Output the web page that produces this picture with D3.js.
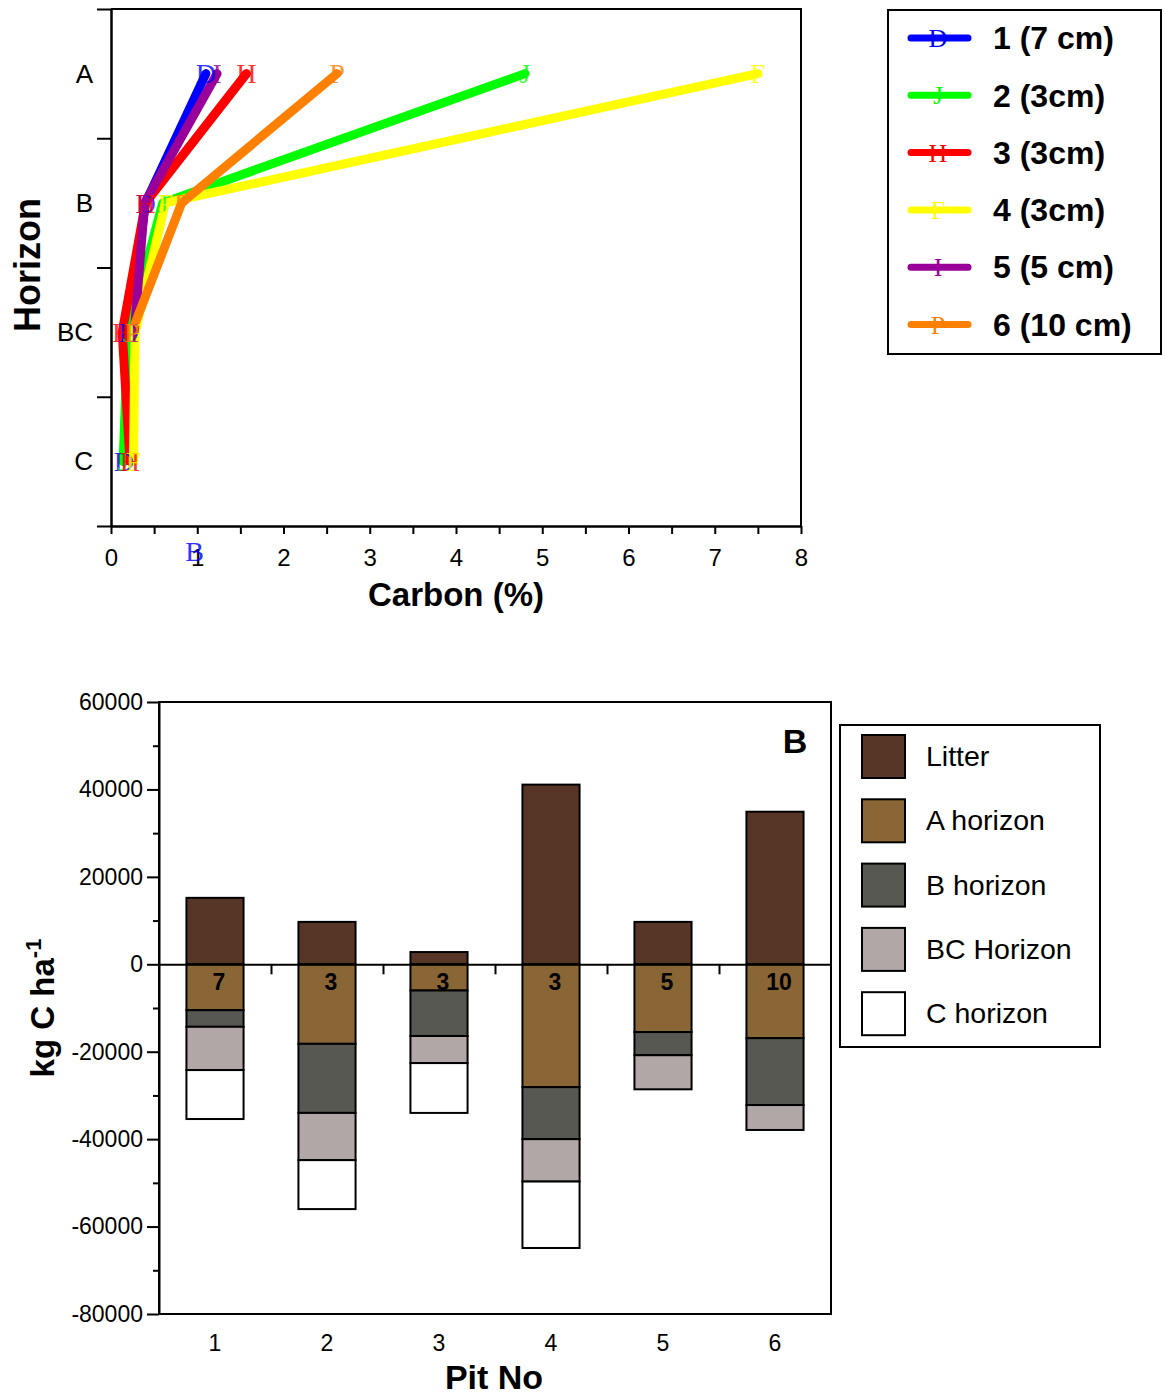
<!DOCTYPE html>
<html lang="en">
<head>
<meta charset="utf-8">
<title>Soil carbon by horizon</title>
<script src="https://cdn.jsdelivr.net/npm/d3@7"></script>
<style>
  body { margin: 0; background: #fff; }
  text { font-family: "Liberation Sans", Arial, sans-serif; fill: #000; }
  .marker { font-family: "Liberation Serif", "DejaVu Serif", serif; }
</style>
</head>
<body>
<script>
// ---- data: top panel (carbon % per horizon) ----
var horizons = ["A", "B", "BC", "C"];
var pitNames = ["1 (7 cm)", "2 (3cm)", "3 (3cm)", "4 (3cm)", "5 (5 cm)", "6 (10 cm)"];
var pitColors = ["#0000ff", "#00ff00", "#ff0000", "#ffff00", "#990099", "#ff8000"];
var pitGlyphs = ["D", "J", "H", "F", "I", "P"];
var carbon1 = [1.1, 0.4, 0.2, 0.15];
var carbon2 = [4.8, 0.6, 0.2, 0.14];
var carbon3 = [1.57, 0.4, 0.13, 0.22];
var carbon4 = [7.5, 0.63, 0.28, 0.26];
var carbon5 = [1.23, 0.39, 0.27];
var carbon6 = [2.62, 0.82, 0.24];

// ---- data: bottom panel (kg C / ha) ----
var pits = ["1", "2", "3", "4", "5", "6"];
var depthLabels = ["7", "3", "3", "3", "5", "10"];
var litter = [15200, 9700, 2800, 41100, 9700, 34900];
var aHorizon = [10500, 18200, 6000, 28100, 15500, 16900];
var bHorizon = [3800, 15800, 10400, 11900, 5300, 15300];
var bcHorizon = [9900, 10800, 6200, 9700, 7800, 5700];
var cHorizon = [11200, 11200, 11400, 15200, 0, 0];
var layerNames = ["Litter", "A horizon", "B horizon", "BC Horizon", "C horizon"];
var layerColors = ["#573627", "#8a6535", "#585852", "#b1a7a6", "#ffffff"];
var stockTicks = [-80000, -60000, -40000, -20000, 0, 20000, 40000, 60000];

var svg = d3.select("body").append("svg")
  .attr("width", 1165).attr("height", 1399);

// ================= top panel =================
var topG = svg.append("g");
var cx = d3.scaleLinear().domain([0, 8]).range([111, 801]);
var hy = d3.scaleLinear().domain([-0.5, 3.5]).range([9, 526]);

// frame (top + right)
topG.append("path")
  .attr("d", "M" + cx(0) + "," + hy(-0.5) + "H" + cx(8) + "V" + hy(3.5))
  .attr("fill", "none").attr("stroke", "#000").attr("stroke-width", 2);

// x axis
var xAxisTop = topG.append("g").attr("transform", "translate(0," + hy(3.5) + ")")
  .call(d3.axisBottom(cx).tickValues(d3.range(0, 8.01, 0.5)).tickSize(8).tickSizeOuter(0)
    .tickFormat(function(d) { return d % 1 === 0 ? d : ""; }));
xAxisTop.select(".domain").attr("stroke-width", 2.5);
xAxisTop.selectAll(".tick line").attr("stroke-width", 2);
xAxisTop.selectAll(".tick text").attr("font-size", 24).attr("dy", "1.2em")
  .style("font-family", "Liberation Sans, Arial, sans-serif");

// y axis: ticks at boundaries, labels at horizon centres
var yAxisTop = topG.append("g").attr("transform", "translate(" + cx(0) + ",0)")
  .call(d3.axisLeft(hy).tickValues([-0.5, 0.5, 1.5, 2.5, 3.5]).tickSize(14).tickSizeOuter(0).tickFormat(""));
yAxisTop.select(".domain").attr("stroke-width", 2.5);
yAxisTop.selectAll(".tick line").attr("stroke-width", 2);

topG.selectAll("text.hlab").data(horizons).enter().append("text")
  .attr("class", "hlab")
  .attr("x", 93).attr("y", function(d, i) { return hy(i); })
  .attr("dy", "0.35em").attr("text-anchor", "end").attr("font-size", 26)
  .text(function(d) { return d; });

topG.append("text").attr("x", cx(4)).attr("y", 606).attr("text-anchor", "middle")
  .attr("font-size", 33).attr("font-weight", "bold").text("Carbon (%)");
topG.append("text").attr("transform", "translate(40,265) rotate(-90)")
  .attr("text-anchor", "middle").attr("font-size", 36).attr("font-weight", "bold")
  .text("Horizon");

// lines
var carbonSeries = [carbon1, carbon2, carbon3, carbon4, carbon5, carbon6];
var line = d3.line().x(function(d) { return cx(d); }).y(function(d, i) { return hy(i); });

carbonSeries.forEach(function(s, k) {
  topG.append("path").datum(s)
    .attr("d", line)
    .attr("fill", "none").attr("stroke", pitColors[k])
    .attr("stroke-width", 9).attr("stroke-linecap", "round").attr("stroke-linejoin", "round");
});
carbonSeries.forEach(function(s, k) {
  topG.selectAll(null).data(s).enter().append("text")
    .attr("class", "marker")
    .attr("x", function(d) { return cx(d); })
    .attr("y", function(d, i) { return hy(i); })
    .attr("dy", "0.35em").attr("text-anchor", "middle").attr("font-size", 28)
    .style("fill", pitColors[k]).style("opacity", 0.8)
    .text(pitGlyphs[k]);
});
// stray blue glyph under the axis
topG.append("text").attr("class", "marker")
  .attr("x", cx(0.97)).attr("y", 551).attr("dy", "0.35em").attr("text-anchor", "middle")
  .attr("font-size", 28).style("fill", "#0000ff").style("opacity", 0.8).text("B");

// legend
var lg = topG.append("g");
lg.append("rect").attr("x", 888).attr("y", 10).attr("width", 273).attr("height", 344)
  .attr("fill", "#fff").attr("stroke", "#000").attr("stroke-width", 2);
var lgItems = lg.selectAll("g.item").data(pitNames).enter().append("g")
  .attr("class", "item")
  .attr("transform", function(d, i) { return "translate(0," + (38 + i * 57.3) + ")"; });
lgItems.append("line").attr("x1", 911).attr("x2", 968)
  .attr("stroke", function(d, i) { return pitColors[i]; })
  .attr("stroke-width", 7).attr("stroke-linecap", "round");
lgItems.append("text").attr("class", "marker").attr("x", 938).attr("dy", "0.35em")
  .attr("text-anchor", "middle").attr("font-size", 26)
  .style("fill", function(d, i) { return pitColors[i]; })
  .text(function(d, i) { return pitGlyphs[i]; });
lgItems.append("text").attr("x", 993).attr("dy", "0.35em")
  .attr("font-size", 32).attr("font-weight", "bold")
  .text(function(d) { return d; });

// ================= bottom panel =================
var bot = svg.append("g");
var px = d3.scaleBand().domain(pits).range([159, 831]);
var ky = d3.scaleLinear().domain([-80000, 60000]).range([1314, 702]);
var barW = px.bandwidth() * 0.51;

bot.append("rect").attr("x", 159).attr("y", ky(60000))
  .attr("width", 831 - 159).attr("height", ky(-80000) - ky(60000))
  .attr("fill", "none").attr("stroke", "#000").attr("stroke-width", 2);

// y axis with minor ticks
var yAxisBot = bot.append("g").attr("transform", "translate(159,0)")
  .call(d3.axisLeft(ky).tickValues(stockTicks).tickSize(12).tickSizeOuter(0).tickPadding(4)
    .tickFormat(function(d) { return String(d); }));
yAxisBot.select(".domain").attr("stroke-width", 2);
yAxisBot.selectAll(".tick line").attr("stroke-width", 2);
yAxisBot.selectAll(".tick text").attr("font-size", 23)
  .style("font-family", "Liberation Sans, Arial, sans-serif");
bot.append("g").attr("transform", "translate(159,0)")
  .call(d3.axisLeft(ky).tickValues(d3.range(-70000, 60000, 20000)).tickSize(6).tickFormat(""))
  .call(function(g) { g.select(".domain").remove(); g.selectAll("line").attr("stroke-width", 2); });

// stacked bars
var layers = [litter, aHorizon, bHorizon, bcHorizon, cHorizon];
var rows = pits.map(function(p, i) {
  var segs = [{ layer: 0, y0: 0, y1: litter[i] }];
  var base = 0;
  for (var k = 1; k < layers.length; k++) {
    var v = layers[k][i];
    if (v > 0) { segs.push({ layer: k, y0: base - v, y1: base }); base -= v; }
  }
  return { pit: p, segs: segs };
});

var barG = bot.selectAll("g.bar").data(rows).enter().append("g").attr("class", "bar");
barG.selectAll("rect").data(function(d) { return d.segs.map(function(s) { s.pit = d.pit; return s; }); })
  .enter().append("rect")
  .attr("x", function(d) { return px(d.pit) + (px.bandwidth() - barW) / 2; })
  .attr("y", function(d) { return ky(d.y1); })
  .attr("width", barW)
  .attr("height", function(d) { return ky(d.y0) - ky(d.y1); })
  .attr("fill", function(d) { return layerColors[d.layer]; })
  .attr("stroke", "#000").attr("stroke-width", 2);

// zero line with category ticks
var zero = bot.append("g").attr("transform", "translate(0," + ky(0) + ")")
  .call(d3.axisBottom(d3.scaleLinear().domain([159, 831]).range([159, 831]))
    .tickValues(pits.slice(1).map(function(p) { return px(p); })).tickSize(10).tickSizeOuter(0).tickFormat(""));
zero.select(".domain").attr("stroke-width", 2);
zero.selectAll(".tick line").attr("stroke-width", 2);

bot.selectAll("text.depth").data(depthLabels).enter().append("text")
  .attr("class", "depth")
  .attr("x", function(d, i) { return px(pits[i]) + px.bandwidth() / 2 + 4; })
  .attr("y", ky(0) + 18).attr("dy", "0.35em").attr("text-anchor", "middle")
  .attr("font-size", 23).attr("font-weight", "bold")
  .text(function(d) { return d; });

// x labels
bot.selectAll("text.pit").data(pits).enter().append("text")
  .attr("class", "pit")
  .attr("x", function(d) { return px(d) + px.bandwidth() / 2; })
  .attr("y", 1343).attr("dy", "0.35em").attr("text-anchor", "middle").attr("font-size", 23)
  .text(function(d) { return d; });

bot.append("text").attr("x", 494).attr("y", 1389).attr("text-anchor", "middle")
  .attr("font-size", 34).attr("font-weight", "bold").text("Pit No");

var yt = bot.append("text").attr("transform", "translate(54,1008) rotate(-90)")
  .attr("text-anchor", "middle").attr("font-size", 33).attr("font-weight", "bold");
yt.append("tspan").text("kg C ha");
yt.append("tspan").attr("dy", -13).attr("font-size", 22).text("-1");

bot.append("text").attr("x", 795).attr("y", 741).attr("dy", "0.35em").attr("text-anchor", "middle")
  .attr("font-size", 34).attr("font-weight", "bold").text("B");

// legend
var lg2 = bot.append("g");
lg2.append("rect").attr("x", 840).attr("y", 725).attr("width", 260).attr("height", 322)
  .attr("fill", "#fff").attr("stroke", "#000").attr("stroke-width", 2);
var lg2Items = lg2.selectAll("g.item").data(layerNames).enter().append("g")
  .attr("class", "item")
  .attr("transform", function(d, i) { return "translate(0," + (756 + i * 64.3) + ")"; });
lg2Items.append("rect").attr("x", 862).attr("y", -21).attr("width", 43).attr("height", 43)
  .attr("fill", function(d, i) { return layerColors[i]; })
  .attr("stroke", "#000").attr("stroke-width", 2);
lg2Items.append("text").attr("x", 926).attr("dy", "0.35em").attr("font-size", 28.5)
  .text(function(d) { return d; });
</script>
</body>
</html>
